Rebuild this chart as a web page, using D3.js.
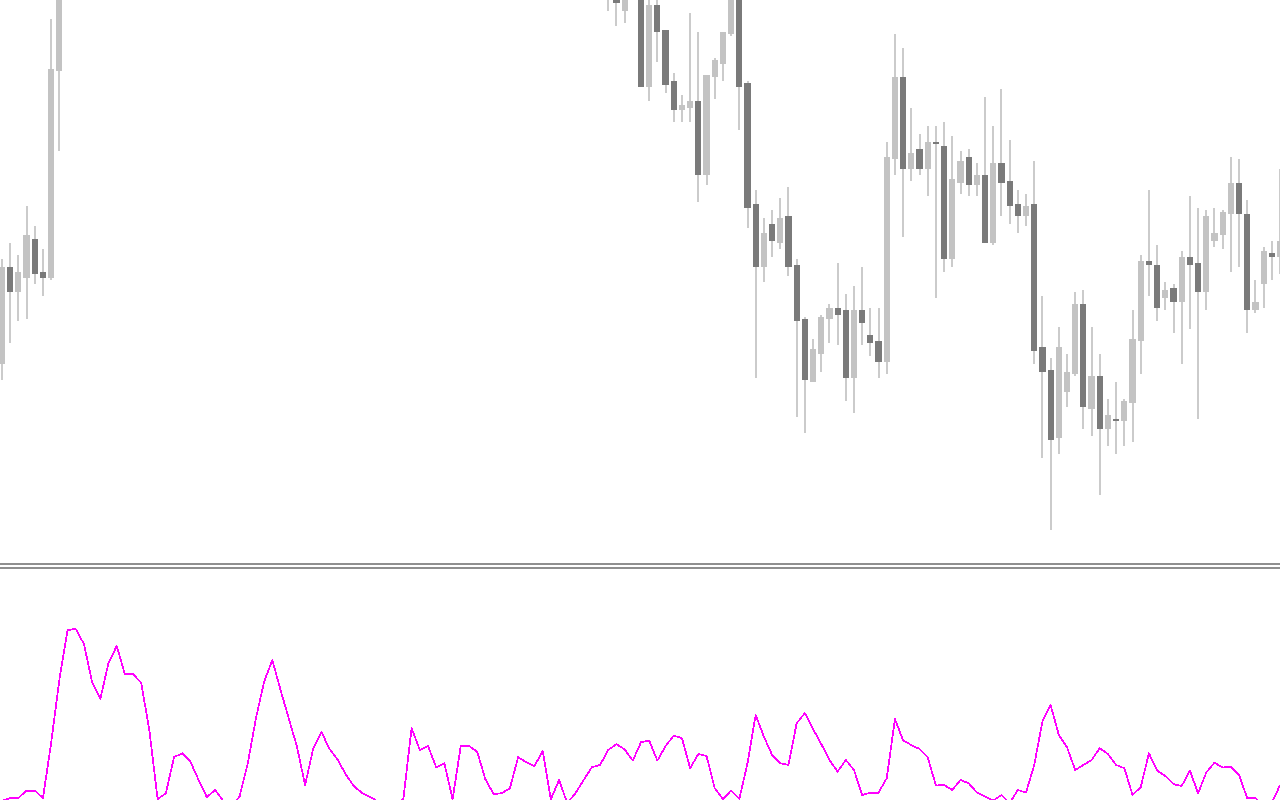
<!DOCTYPE html>
<html>
<head>
<meta charset="utf-8">
<script src="https://cdn.jsdelivr.net/npm/d3@7/dist/d3.min.js"></script>
<style>
  html, body { margin: 0; padding: 0; background: #ffffff; }
  svg { display: block; }
</style>
</head>
<body>
<svg id="chart" width="1280" height="800"></svg>
<script>
// ---- DATA (bar index 0..156; null = bar lies entirely above the visible price range) ----
const N = null;
const open = [
  1.26363,1.27330,1.27080,1.27220,1.27610,1.27280,1.27220,1.29290,
  N,N,N,N,N,N,N,N,N,N,N,
  N,N,N,N,N,N,N,N,N,N,N,
  N,N,N,N,N,N,N,N,N,N,N,
  N,N,N,N,N,N,N,N,N,N,N,
  N,N,N,N,N,N,N,N,N,N,N,
  N,N,N,N,N,N,N,N,N,N,N,
  1.30150,1.30200,1.29893,N,1.30250,1.29133,1.29950,1.29700,1.29190,1.28903,
  1.28923,1.28990,1.28253,1.29233,1.29363,1.29663,1.30100,1.29173,1.27960,1.27333,
  1.27760,1.27573,1.27840,1.27350,1.26810,1.26183,1.26463,1.26813,1.26920,1.26900,
  1.26223,1.26900,1.26650,1.26590,1.26383,1.28410,1.29230,1.28310,1.28510,1.28310,
  1.28580,1.28540,1.27410,1.28170,1.28430,1.28150,1.28250,1.27570,1.28370,1.28190,
  1.27960,1.27840,1.27960,1.26530,1.26300,1.25620,1.26080,1.26260,1.26960,1.25910,
  1.26240,1.25710,1.25810,1.25790,1.25970,1.26590,1.27390,1.27350,1.27020,1.27120,
  1.26980,1.27430,1.27370,1.27080,1.27590,1.27650,1.27860,1.28170,1.27860,1.26900,
  1.27160,1.27470,1.27430
];
const high = [
  1.27410,1.27570,1.27450,1.27940,1.27740,1.27510,1.29810,1.30600,
  N,N,N,N,N,N,N,N,N,N,N,
  N,N,N,N,N,N,N,N,N,N,N,
  N,N,N,N,N,N,N,N,N,N,N,
  N,N,N,N,N,N,N,N,N,N,N,
  N,N,N,N,N,N,N,N,N,N,N,
  N,N,N,N,N,N,N,N,N,N,N,
  1.30500,1.30300,1.30300,N,1.30350,1.30050,1.30080,1.29700,1.29270,1.29050,
  1.29870,1.29680,1.29250,1.29420,1.29680,1.30200,1.30200,1.29193,1.28100,1.27820,
  1.27900,1.28020,1.28130,1.27410,1.26830,1.26610,1.26850,1.26960,1.27370,1.27060,
  1.27140,1.27330,1.26920,1.26920,1.28580,1.29660,1.29520,1.28920,1.28660,1.28740,
  1.28740,1.28780,1.28640,1.28490,1.28510,1.28370,1.29030,1.28740,1.29110,1.28600,
  1.28100,1.28060,1.28390,1.27040,1.26420,1.26730,1.26460,1.27080,1.27100,1.26730,
  1.26460,1.26010,1.26180,1.26010,1.26900,1.27450,1.28100,1.27550,1.27180,1.27160,
  1.27490,1.28040,1.27920,1.27900,1.27920,1.27900,1.28430,1.28410,1.28000,1.27200,
  1.27530,1.27590,1.28310
];
const low = [
  1.26200,1.26570,1.26790,1.26810,1.27160,1.27040,1.27200,1.28490,
  N,N,N,N,N,N,N,N,N,N,N,
  N,N,N,N,N,N,N,N,N,N,N,
  N,N,N,N,N,N,N,N,N,N,N,
  N,N,N,N,N,N,N,N,N,N,N,
  N,N,N,N,N,N,N,N,N,N,N,
  N,N,N,N,N,N,N,N,N,N,N,
  1.29890,1.29743,1.29773,N,1.29133,1.28993,1.29383,1.29073,1.28783,1.28783,
  1.28783,1.27983,1.28153,1.29013,1.29193,1.29643,1.28703,1.27723,1.26223,1.27183,
  1.27433,1.27513,1.27243,1.25833,1.25673,1.26183,1.26283,1.26573,1.26553,1.25993,
  1.25873,1.26553,1.26443,1.26223,1.26263,1.28250,1.27630,1.28190,1.28250,1.28040,
  1.27020,1.27280,1.27330,1.28060,1.28040,1.28040,1.27570,1.27550,1.27840,1.27760,
  1.27670,1.27740,1.26360,1.25420,1.24700,1.25460,1.25930,1.26240,1.25710,1.25640,
  1.25050,1.25540,1.25460,1.25540,1.25580,1.26260,1.27040,1.26790,1.26900,1.26670,
  1.26360,1.26710,1.25810,1.26900,1.27530,1.27510,1.27280,1.27330,1.26670,1.26870,
  1.26920,1.27200,1.27260
];
const close = [
  1.27330,1.27080,1.27280,1.27650,1.27260,1.27220,1.29310,1.30400,
  N,N,N,N,N,N,N,N,N,N,N,
  N,N,N,N,N,N,N,N,N,N,N,
  N,N,N,N,N,N,N,N,N,N,N,
  N,N,N,N,N,N,N,N,N,N,N,
  N,N,N,N,N,N,N,N,N,N,N,
  N,N,N,N,N,N,N,N,N,N,N,
  1.30350,1.29973,1.30200,N,1.29133,1.29950,1.29683,1.29153,1.28903,1.28950,
  1.28990,1.28253,1.29250,1.29400,1.29680,1.30100,1.29133,1.27923,1.27333,1.27670,
  1.27593,1.27820,1.27333,1.26793,1.26203,1.26510,1.26830,1.26920,1.26853,1.26223,
  1.26900,1.26773,1.26573,1.26383,1.28430,1.29230,1.28310,1.28470,1.28310,1.28580,
  1.28560,1.27410,1.28210,1.28390,1.28150,1.28250,1.27570,1.28370,1.28170,1.27940,
  1.27840,1.27940,1.26490,1.26280,1.25600,1.26530,1.26280,1.26960,1.25930,1.26240,
  1.25710,1.25850,1.25790,1.25990,1.26610,1.27390,1.27350,1.26920,1.27100,1.26980,
  1.27430,1.27350,1.27080,1.27840,1.27670,1.27880,1.28170,1.27860,1.26900,1.26980,
  1.27490,1.27430,1.27590
];
// oscillator in the lower pane, one value per bar
const oscillator = [
  4.5,6,6,9.7,9.7,6,33.5,65,90,90.5,
  83,64,55.5,73.5,82,68,68,63.5,39.5,5.4,
  8.4,26.4,28.4,24.2,15,6.4,10,4.7,1.7,6.7,
  23.4,45.9,64.2,75,60,45.9,31.7,12.5,30.9,38.9,
  30.4,25,17.5,11.7,8.4,6.4,4,2,0,5.9,
  40.9,30,32,21.4,23.4,5.4,32,32,29.2,15.4,
  8,8.4,10.9,26.4,23.9,22,29.5,5.4,15,3.4,
  8.4,15,21.4,22.5,30,32.9,30.3,24.7,33.9,34.7,
  24.7,32,37.2,35.9,20.9,28,27,10.9,5.5,9.7,
  5.5,23.4,47.5,36.7,27.5,23.4,22.5,43.4,48.4,40.5,
  33,25,19.2,25,20,7.5,8.7,8.7,15.9,45.5,
  34.7,32.5,30.5,26.4,12.2,12.5,10,15,13.4,8.7,
  6.7,4.7,7.5,3.4,10,8.7,22.5,44.2,52.5,37.5,
  31.4,20,22.5,25,30.9,28,22.5,20.9,7.5,11.4,
  28.4,19.7,17,12.9,12,19.7,8.4,18.7,23.7,21.2,
  21.7,17.5,5.9,5.9,2.5,3.4,12.5
];
const priceDomain = [1.2437, 1.3000];
const oscDomain = [0, 120];

// ---- LAYOUT ----
const W = 1280, H = 800;
const mainBottom = 563;
const subTop = 569;
const colors = { bull: "#c3c3c3", bear: "#7a7a7a", wick: "#cbcbcb", sep: "#8f8f8f", osc: "#ff00ff" };

const svg = d3.select("#chart");
svg.append("rect").attr("width", W).attr("height", H).attr("fill", "#ffffff");

const defs = svg.append("defs");
defs.append("clipPath").attr("id", "clipMain").append("rect")
  .attr("x", 0).attr("y", 0).attr("width", W).attr("height", mainBottom);
defs.append("clipPath").attr("id", "clipSub").append("rect")
  .attr("x", 0).attr("y", subTop).attr("width", W).attr("height", H - subTop);

const nBars = oscillator.length;
const idx = d3.range(nBars);
const x = d3.scaleLinear().domain([0, nBars - 1]).range([2, 1280]);
const y = d3.scaleLinear().domain(priceDomain).range([mainBottom, 0]);
const yOsc = d3.scaleLinear().domain(oscDomain).range([810, 570]);

const bars = idx.filter(i => open[i] != null).map(i => ({
  i, o: open[i], h: high[i], l: low[i], c: close[i]
}));

const main = svg.append("g").attr("clip-path", "url(#clipMain)").attr("shape-rendering", "crispEdges");

// wicks
main.selectAll("rect.wick").data(bars).join("rect")
  .attr("class", "wick")
  .attr("x", d => Math.round(x(d.i)) - 1)
  .attr("width", 2)
  .attr("y", d => Math.round(y(d.h)))
  .attr("height", d => Math.max(1, Math.round(y(d.l)) - Math.round(y(d.h))))
  .attr("fill", colors.wick);

// bodies
main.selectAll("rect.body").data(bars).join("rect")
  .attr("class", "body")
  .attr("x", d => Math.round(x(d.i) - 3.1))
  .attr("width", d => Math.round(x(d.i) + 3.1) - Math.round(x(d.i) - 3.1))
  .attr("y", d => Math.round(y(Math.max(d.o, d.c))))
  .attr("height", d => Math.max(2, Math.round(y(Math.min(d.o, d.c))) - Math.round(y(Math.max(d.o, d.c)))))
  .attr("fill", d => d.c >= d.o ? colors.bull : colors.bear);

// pane separator
svg.append("rect").attr("x", 0).attr("y", 563).attr("width", W).attr("height", 2).attr("fill", colors.sep);
svg.append("rect").attr("x", 0).attr("y", 567).attr("width", W).attr("height", 2).attr("fill", colors.sep);

// oscillator line
const line = d3.line().x(i => x(i)).y(i => yOsc(oscillator[i]));
svg.append("g").attr("clip-path", "url(#clipSub)")
  .append("path")
  .attr("d", line(idx))
  .attr("fill", "none")
  .attr("stroke", colors.osc)
  .attr("stroke-width", 1.8)
  .attr("stroke-linejoin", "round")
  .attr("shape-rendering", "crispEdges");
</script>
</body>
</html>
